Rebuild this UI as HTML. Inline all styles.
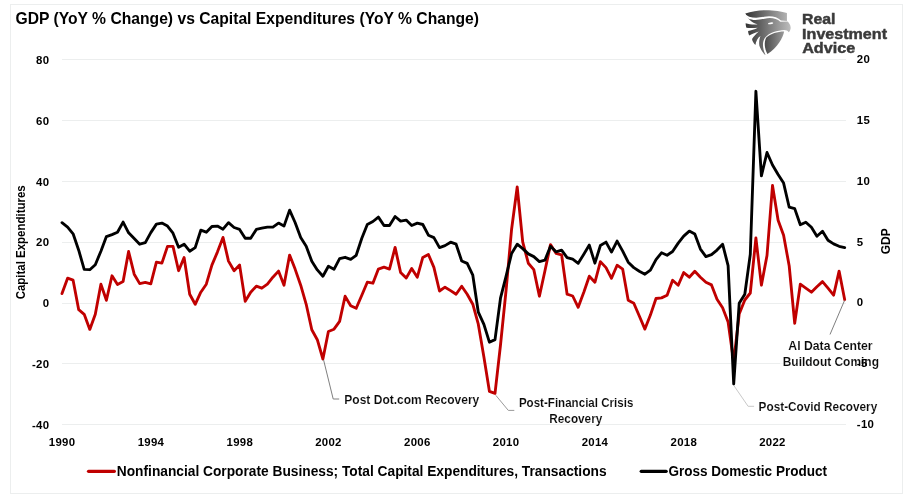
<!DOCTYPE html>
<html><head><meta charset="utf-8"><title>GDP vs Capital Expenditures</title>
<style>
html,body{margin:0;padding:0;background:#fff;}
body{width:914px;height:498px;overflow:hidden;font-family:"Liberation Sans",sans-serif;}
svg{display:block;will-change:transform;}
svg text{font-family:"Liberation Sans",sans-serif;font-weight:bold;fill:#000;}
svg .ann text{font-weight:bold;fill:#0a0a0a;stroke:#fff;stroke-width:0.12px;}
</style></head><body>
<svg width="914" height="498" viewBox="0 0 914 498">
<defs>
<linearGradient id="eg" x1="0" y1="0" x2="1" y2="0"><stop offset="0" stop-color="#333"/><stop offset="0.55" stop-color="#808080"/><stop offset="1" stop-color="#bdbdbd"/></linearGradient>
<linearGradient id="eg2" x1="0" y1="0" x2="1" y2="0"><stop offset="0" stop-color="#4a4a4a"/><stop offset="1" stop-color="#9a9a9a"/></linearGradient>
</defs>
<rect x="0" y="0" width="914" height="498" fill="#fff"/>
<rect x="10.5" y="4.5" width="892" height="489" fill="#fff" stroke="#eceeee" stroke-width="1" shape-rendering="crispEdges"/>
<g stroke="#eceeee" stroke-width="1" shape-rendering="crispEdges"><line x1="61.5" x2="845.5" y1="59.5" y2="59.5"/><line x1="61.5" x2="845.5" y1="120.5" y2="120.5"/><line x1="61.5" x2="845.5" y1="181.5" y2="181.5"/><line x1="61.5" x2="845.5" y1="242.5" y2="242.5"/><line x1="61.5" x2="845.5" y1="303.5" y2="303.5"/><line x1="61.5" x2="845.5" y1="363.5" y2="363.5"/><line x1="61.5" x2="845.5" y1="424.5" y2="424.5"/></g>
<text id="title" x="15.5" y="23.8" font-size="16.9" textLength="463.5" lengthAdjust="spacingAndGlyphs">GDP (YoY % Change) vs Capital Expenditures (YoY % Change)</text>
<g font-size="11.4" letter-spacing="0.3"><text x="49.3" y="63.9" text-anchor="end">80</text><text x="49.3" y="124.7" text-anchor="end">60</text><text x="49.3" y="185.6" text-anchor="end">40</text><text x="49.3" y="246.4" text-anchor="end">20</text><text x="49.3" y="307.2" text-anchor="end">0</text><text x="49.3" y="368.1" text-anchor="end">-20</text><text x="49.3" y="428.9" text-anchor="end">-40</text><text x="856.8" y="63.1">20</text><text x="856.8" y="123.9">15</text><text x="856.8" y="184.8">10</text><text x="856.8" y="245.6">5</text><text x="856.8" y="306.4">0</text><text x="856.8" y="428.1">-10</text><text x="62.1" y="446" text-anchor="middle">1990</text><text x="150.9" y="446" text-anchor="middle">1994</text><text x="239.8" y="446" text-anchor="middle">1998</text><text x="328.5" y="446" text-anchor="middle">2002</text><text x="417.3" y="446" text-anchor="middle">2006</text><text x="506.1" y="446" text-anchor="middle">2010</text><text x="594.9" y="446" text-anchor="middle">2014</text><text x="683.8" y="446" text-anchor="middle">2018</text><text x="772.5" y="446" text-anchor="middle">2022</text></g>
<text font-size="12" text-anchor="middle" transform="translate(24.6,242.3) rotate(-90)" textLength="114" lengthAdjust="spacingAndGlyphs">Capital Expenditures</text>
<text font-size="12" text-anchor="middle" transform="translate(890,241.3) rotate(-90)">GDP</text>
<!-- annotation box -->
<rect x="780" y="334" width="102" height="38" fill="#fff" fill-opacity="0.7"/>
<polyline fill="none" stroke="#C00000" stroke-width="2.85" stroke-linejoin="round" stroke-linecap="round" points="62.0,293.6 67.6,278.2 73.1,280.2 78.7,309.7 84.2,314.3 89.8,329.4 95.3,314.3 100.9,284.2 106.4,300.3 112.0,275.8 117.5,284.6 123.1,281.6 128.6,251.5 134.2,274.2 139.7,283.6 145.3,282.4 150.8,283.8 156.4,262.1 161.9,263.1 167.5,246.4 173.0,246.4 178.6,270.7 184.1,257.5 189.7,294.2 195.2,304.3 200.8,292.2 206.3,284.2 211.9,265.1 217.4,252.1 223.0,237.4 228.5,261.1 234.1,270.7 239.6,265.1 245.2,301.3 250.7,292.2 256.3,286.2 261.8,288.2 267.4,284.2 272.9,277.2 278.5,271.1 284.0,285.2 289.6,255.1 295.1,269.1 300.7,285.2 306.2,304.3 311.8,329.8 317.3,339.7 322.9,359.0 328.4,331.5 334.0,329.2 339.6,321.4 345.1,296.2 350.7,305.7 356.2,308.3 361.8,295.2 367.3,282.2 372.9,283.2 378.4,269.1 384.0,267.1 389.5,269.1 395.1,247.4 400.6,272.5 406.2,278.1 411.7,268.5 417.3,277.2 422.8,257.4 428.4,254.5 433.9,267.4 439.5,291.0 445.0,287.2 450.6,290.6 456.1,294.2 461.7,286.2 467.2,294.2 472.8,304.2 478.3,324.2 483.9,357.0 489.4,391.3 495.0,393.4 500.5,345.0 506.1,290.0 511.6,229.2 517.2,187.0 522.7,241.8 528.3,263.2 533.8,269.6 539.4,296.2 544.9,271.0 550.5,244.6 556.0,253.3 561.6,254.8 567.1,294.2 572.7,296.0 578.2,307.3 583.8,292.2 589.3,276.2 594.9,282.3 600.4,261.6 606.0,267.6 611.5,278.3 617.1,265.2 622.7,269.2 628.2,300.3 633.8,303.2 639.3,316.0 644.9,329.1 650.4,315.1 656.0,298.5 661.5,297.9 667.1,295.3 672.6,280.3 678.2,285.3 683.7,272.6 689.3,277.2 694.8,271.2 700.4,277.2 705.9,282.3 711.5,284.9 717.0,299.2 722.6,307.8 728.1,322.0 733.7,362.0 739.2,314.0 744.8,300.0 750.3,293.0 755.9,238.0 761.4,285.2 767.0,255.5 772.5,185.5 778.1,220.2 783.6,235.3 789.2,266.0 794.7,323.4 800.3,284.2 805.8,288.2 811.4,292.2 816.9,286.8 822.5,281.6 828.0,288.2 833.6,295.2 839.1,271.1 844.7,299.7"/>
<polyline fill="none" stroke="#000" stroke-width="2.85" stroke-linejoin="round" stroke-linecap="round" points="62.0,222.7 67.6,227.1 73.1,233.8 78.7,250.2 84.2,269.3 89.8,269.7 95.3,264.7 100.9,251.2 106.4,236.6 112.0,234.6 117.5,232.2 123.1,222.1 128.6,232.8 134.2,238.6 139.7,244.2 145.3,242.6 150.8,232.6 156.4,224.1 161.9,223.1 167.5,226.1 173.0,233.2 178.6,247.2 184.1,244.2 189.7,251.2 195.2,247.6 200.8,230.2 206.3,232.2 211.9,226.5 217.4,226.1 223.0,229.2 228.5,222.7 234.1,227.5 239.6,229.4 245.2,238.2 250.7,238.2 256.3,229.4 261.8,228.2 267.4,227.1 272.9,227.1 278.5,223.1 284.0,226.1 289.6,210.1 295.1,222.5 300.7,237.6 306.2,246.2 311.8,261.3 317.3,269.9 322.9,276.3 328.4,266.3 334.0,269.3 339.6,258.7 345.1,257.3 350.7,259.3 356.2,255.3 361.8,238.2 367.3,224.5 372.9,221.5 378.4,217.1 384.0,225.5 389.5,225.5 395.1,216.5 400.6,221.1 406.2,220.1 411.7,225.5 417.3,223.1 422.8,224.5 428.4,235.2 433.9,237.6 439.5,247.6 445.0,245.6 450.6,242.2 456.1,244.2 461.7,261.0 467.2,263.4 472.8,275.2 478.3,312.2 483.9,324.3 489.4,342.2 495.0,339.6 500.5,298.2 506.1,276.1 511.6,253.5 517.2,244.2 522.7,248.6 528.3,253.9 533.8,256.6 539.4,261.6 544.9,260.2 550.5,246.2 556.0,251.8 561.6,250.2 567.1,257.6 572.7,259.2 578.2,263.3 583.8,254.3 589.3,245.1 594.9,263.2 600.4,245.5 606.0,242.1 611.5,252.1 617.1,241.1 622.7,251.1 628.2,262.2 633.8,267.6 639.3,271.2 644.9,274.2 650.4,270.2 656.0,259.6 661.5,252.8 667.1,255.2 672.6,251.5 678.2,243.1 683.7,236.1 689.3,231.1 694.8,234.1 700.4,249.1 705.9,256.6 711.5,254.6 717.0,250.1 722.6,244.2 728.1,265.6 733.7,384.0 739.2,303.3 744.8,294.3 750.3,254.3 755.9,91.3 761.4,175.8 767.0,152.5 772.5,165.0 778.1,174.5 783.6,183.1 789.2,207.2 794.7,208.6 800.3,224.7 805.8,222.2 811.4,227.3 816.9,236.3 822.5,231.3 828.0,240.3 833.6,243.9 839.1,246.3 844.7,247.6"/>
<!-- leaders -->
<polyline fill="none" stroke="#7f7f7f" stroke-width="1" points="323.6,360 333.2,399 339.2,399"/>
<polyline fill="none" stroke="#9a9a9a" stroke-width="1" points="495.8,395.3 508.3,410.4 514.3,410.4"/>
<polyline fill="none" stroke="#c9c9c9" stroke-width="1" points="733.7,385.3 748.1,406.3 754.1,406.3"/>
<polyline fill="none" stroke="#7f7f7f" stroke-width="1" points="844.5,300.5 830,334.5"/>
<g font-size="12.6" class="ann">
<text x="344.3" y="403.6" textLength="135" lengthAdjust="spacingAndGlyphs">Post Dot.com Recovery</text>
<text x="518.9" y="407.3" textLength="114.5" lengthAdjust="spacingAndGlyphs">Post-Financial Crisis</text>
<text x="549.3" y="423.4" textLength="53" lengthAdjust="spacingAndGlyphs">Recovery</text>
<text x="758.6" y="410.9" textLength="118.6" lengthAdjust="spacingAndGlyphs">Post-Covid Recovery</text>
<text x="788.3" y="349.6" textLength="84.3" lengthAdjust="spacingAndGlyphs">AI Data Center</text>
<text x="782.7" y="365.8" textLength="96.3" lengthAdjust="spacingAndGlyphs">Buildout Coming</text>
</g>
<g font-size="11.4" letter-spacing="0.3"><text x="856.8" y="367.1">-5</text></g>
<!-- legend -->
<line x1="88.5" x2="114.4" y1="471.3" y2="471.3" stroke="#C00000" stroke-width="3.2" stroke-linecap="round"/>
<text x="116.8" y="476" font-size="14" textLength="489.8" lengthAdjust="spacingAndGlyphs">Nonfinancial Corporate Business; Total Capital Expenditures, Transactions</text>
<line x1="641.2" x2="666.2" y1="471.3" y2="471.3" stroke="#000" stroke-width="3.2" stroke-linecap="round"/>
<text x="668.4" y="476" font-size="14" textLength="158.6" lengthAdjust="spacingAndGlyphs">Gross Domestic Product</text>
<!-- logo -->
<g transform="translate(738,4) scale(0.1125)">
<path fill="url(#eg)" d="M65,85 C120,65 200,55 250,55 C320,55 390,65 435,80 L435,150 C455,165 470,190 468,215 C465,235 458,245 450,252 C445,240 430,232 410,232 C350,235 280,255 240,300 C215,335 215,390 245,455 C225,440 200,400 190,370 C185,340 190,310 200,285 C175,300 160,330 155,365 C140,350 125,325 125,310 C140,290 160,265 185,245 C150,255 120,270 100,280 C92,265 90,250 90,240 C115,235 150,225 175,210 C140,215 100,215 75,210 C70,195 68,180 68,170 C100,180 140,185 175,180 C130,170 90,140 65,85 Z"/>
<path fill="#fff" d="M58,84 C88,120 150,130 232,114 C292,102 350,114 382,147 L440,150 L440,156 L376,157 C344,127 292,119 238,130 C150,152 74,146 58,84 Z"/>
<path fill="url(#eg2)" d="M250,300 C290,265 350,245 410,245 C400,300 350,390 262,445 C235,400 230,340 250,300 Z"/>
<ellipse cx="290" cy="172" rx="24" ry="8" fill="#fff" transform="rotate(-8 290 172)"/>
</g>
<g font-size="14.4" style="fill:#3a3a3a;stroke:#3a3a3a;stroke-width:0.45px">
<text x="802.1" y="24.2" style="fill:#3a3a3a" textLength="33.4" lengthAdjust="spacingAndGlyphs">Real</text>
<text x="802.1" y="38.7" style="fill:#3a3a3a" textLength="84.9" lengthAdjust="spacingAndGlyphs">Investment</text>
<text x="802.2" y="52.8" style="fill:#3a3a3a" textLength="53" lengthAdjust="spacingAndGlyphs">Advice</text>
</g>
</svg>
</body></html>
